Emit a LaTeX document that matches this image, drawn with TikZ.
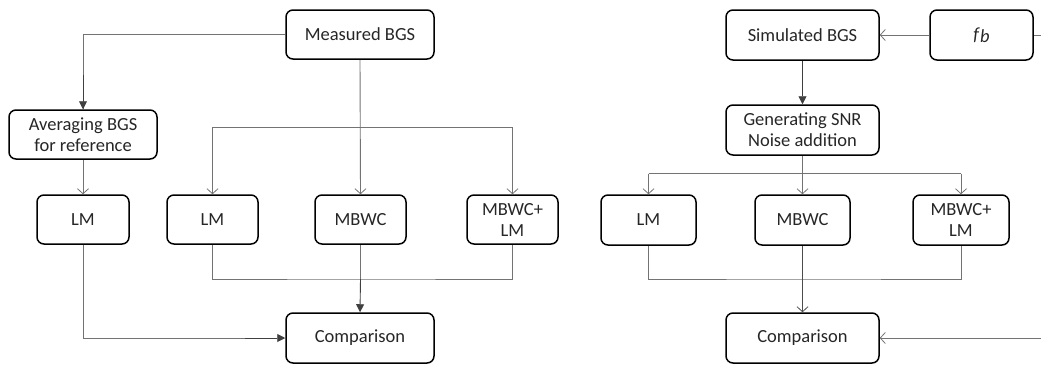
\documentclass[tikz,border=0pt]{standalone}
\usepackage{fontspec}
\setmainfont{Carlito}
\usetikzlibrary{arrows.meta}
\begin{document}
\begin{tikzpicture}[x=1pt,y=-1pt,
  box/.style={draw=black,line width=1.5pt,rounded corners=7pt,align=center,
    font=\fontsize{18.5}{21}\selectfont,inner sep=0pt,text=black!85},
  conn/.style={draw=black!55,line width=0.9pt},
  openarr/.style={conn,-{Straight Barb[length=5pt,width=11pt,line width=0.8pt]}},
  fillarr/.style={draw=black!75,line width=0.9pt,-{Triangle[length=8pt,width=8pt]}}]
\useasboundingbox (0,0) rectangle (1041,365);
% left part
\node[box,minimum width=148pt,minimum height=49pt] (meas) at (360,34.5) {Measured BGS};
\node[box,minimum width=148pt,minimum height=49pt] (avg) at (83,134.5) {Averaging BGS\\for reference};
\node[box,minimum width=92pt,minimum height=49pt] (lmA) at (83,219.5) {LM};
\node[box,minimum width=91pt,minimum height=49pt] (lmB) at (212.5,219.5) {LM};
\node[box,minimum width=91pt,minimum height=49pt] (mbwcA) at (360.5,219.5) {MBWC};
\node[box,minimum width=91pt,minimum height=49pt] (mlA) at (512.5,219.5) {MBWC+\\LM};
\node[box,minimum width=148pt,minimum height=50pt] (compA) at (360,338) {Comparison};
\coordinate (busA) at (360.5,127);
\coordinate (botA) at (360.5,279);
\draw[conn] (meas.west) -| (avg.north);
\draw[fillarr] (avg.north |- meas.west) ++(0,40) -- (avg.north);
\draw[openarr] (meas.south) -- (mbwcA.north);
\draw[conn] (lmB.north |- busA) -- (mlA.north |- busA);
\draw[openarr] (lmB.north |- busA) -- (lmB.north);
\draw[openarr] (mlA.north |- busA) -- (mlA.north);
\draw[openarr] (avg.south) -- (lmA.north);
\draw[conn] (lmB.south) |- (botA) -| (mlA.south);
\draw[conn] (mbwcA.south) -- (botA);
\draw[fillarr] (botA) -- (compA.north);
\draw[conn] (lmA.south) |- ([xshift=-40pt]compA.west);
\draw[fillarr] ([xshift=-40pt]compA.west) -- (compA.west);
% right part
\node[box,minimum width=153pt,minimum height=50pt] (sim) at (802.5,35) {Simulated BGS};
\node[box,minimum width=103pt,minimum height=50pt] (fb) at (981.5,35) {\textit{f}\raisebox{-2pt}{\textit{b}}};
\node[box,minimum width=153pt,minimum height=50pt] (gen) at (802.5,130) {Generating SNR\\Noise addition};
\node[box,minimum width=95pt,minimum height=50pt] (lmC) at (648.5,220) {LM};
\node[box,minimum width=95pt,minimum height=50pt] (mbwcB) at (802.5,220) {MBWC};
\node[box,minimum width=96pt,minimum height=50pt] (mlB) at (961,220) {MBWC+\\LM};
\node[box,minimum width=153pt,minimum height=50pt] (compB) at (802.5,338) {Comparison};
\coordinate (busB) at (802.5,173.5);
\coordinate (botB) at (802.5,279);
\coordinate (outR) at (1041,35);
\coordinate (inR) at (1041,338);
\draw[openarr] (fb.west) -- (sim.east);
\draw[fillarr] (sim.south) -- (gen.north);
\draw[openarr] (gen.south) -- (mbwcB.north);
\draw[conn] (lmC.north |- busB) -- (mlB.north |- busB);
\draw[openarr] (lmC.north |- busB) -- (lmC.north);
\draw[openarr] (mlB.north |- busB) -- (mlB.north);
\draw[conn] (lmC.south) |- (botB) -| (mlB.south);
\draw[openarr,draw=black!70] (mbwcB.south) -- (compB.north);
\draw[conn] (fb.east) -- (outR);
\draw[openarr] (inR) -- (compB.east);
\end{tikzpicture}
\end{document}
